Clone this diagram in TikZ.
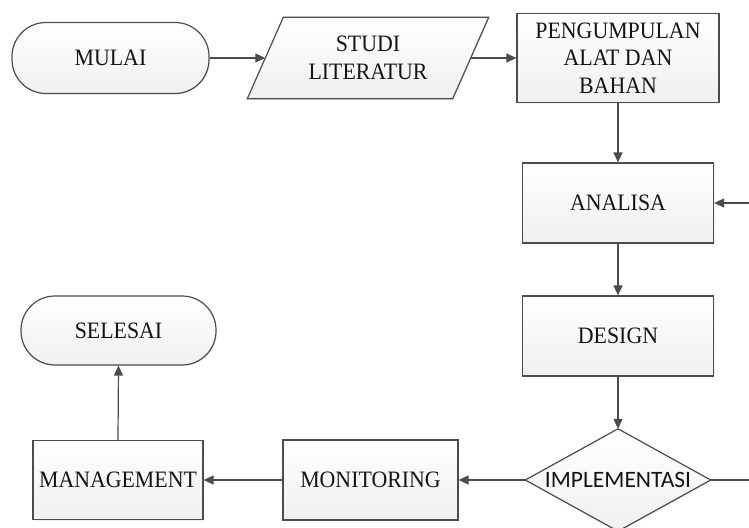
\documentclass[tikz,border=0pt]{standalone}
\usepackage{fontspec}
\setmainfont{Liberation Serif}[FakeStretch=0.93]
\newfontfamily\diafont{Carlito}
\usetikzlibrary{arrows.meta,shadows}
\begin{document}
\begin{tikzpicture}[x=1pt,y=-1pt,
  every node/.style={font=\fontsize{23.5}{27.5}\selectfont, text=black!92,
    align=center, inner sep=0pt},
  shapefill/.style={draw=black!70, line width=1.2pt, top color=white,
    bottom color=black!6,
    drop shadow={shadow xshift=1pt, shadow yshift=-1.2pt, opacity=0.12}},
  procbox/.style={shapefill, rectangle},
  termbox/.style={shapefill, rectangle, rounded corners=34pt},
  frame/.style={rectangle, draw=none},
  flow/.style={draw=black!70, line width=1.2pt,
    -{Triangle[length=10pt,width=9pt]}},
]
\useasboundingbox (0,0) rectangle (749,527);
\begin{scope}
\clip (0,0) rectangle (749,527);

% terminals and process boxes
\node[termbox, minimum width=197, minimum height=71] (mulai) at (110.5,58) {MULAI};
\node[procbox, minimum width=202, minimum height=89] (alat) at (618,58) {PENGUMPULAN\\ALAT DAN\\BAHAN};
\node[procbox, minimum width=191, minimum height=80] (analisa) at (618,203) {ANALISA};
\node[procbox, minimum width=191, minimum height=80] (design) at (618,336) {DESIGN};
\node[procbox, minimum width=175, minimum height=80] (monitoring) at (370.5,480) {MONITORING};
\node[procbox, minimum width=170, minimum height=79] (management) at (118,480) {MANAGEMENT};
\node[termbox, minimum width=195, minimum height=69] (selesai) at (118.5,330.5) {SELESAI};

% input/output parallelogram
\node[frame, minimum width=205, minimum height=81] (studi) at (368,58) {};
\draw[shapefill] ([xshift=18pt]studi.north west) -- ([xshift=18pt]studi.north east)
  -- ([xshift=-18pt]studi.south east) -- ([xshift=-18pt]studi.south west) -- cycle;
\node at (studi) {STUDI\\LITERATUR};

% decision diamond
\node[frame, minimum width=185, minimum height=102] (impl) at (618,480) {};
\draw[shapefill] (impl.north) -- (impl.east) -- (impl.south) -- (impl.west) -- cycle;
\node[font=\diafont\fontsize{23.5}{26}\selectfont] at (impl) {IMPLEMENTASI};

% connectors
\coordinate (ret) at (757,0);
\draw[flow] (mulai.east) -- (studi.west);
\draw[flow] (studi.east) -- (alat.west);
\draw[flow] (alat.south) -- (analisa.north);
\draw[flow] (analisa.south) -- (design.north);
\draw[flow] (design.south) -- (impl.north);
\draw[flow] (impl.west) -- (monitoring.east);
\draw[flow] (monitoring.west) -- (management.east);
\draw[flow] (management.north) -- (selesai.south);
\draw[flow] (impl.east) -- (impl.east -| ret) |- (analisa.east);
\end{scope}
\end{tikzpicture}
\end{document}
